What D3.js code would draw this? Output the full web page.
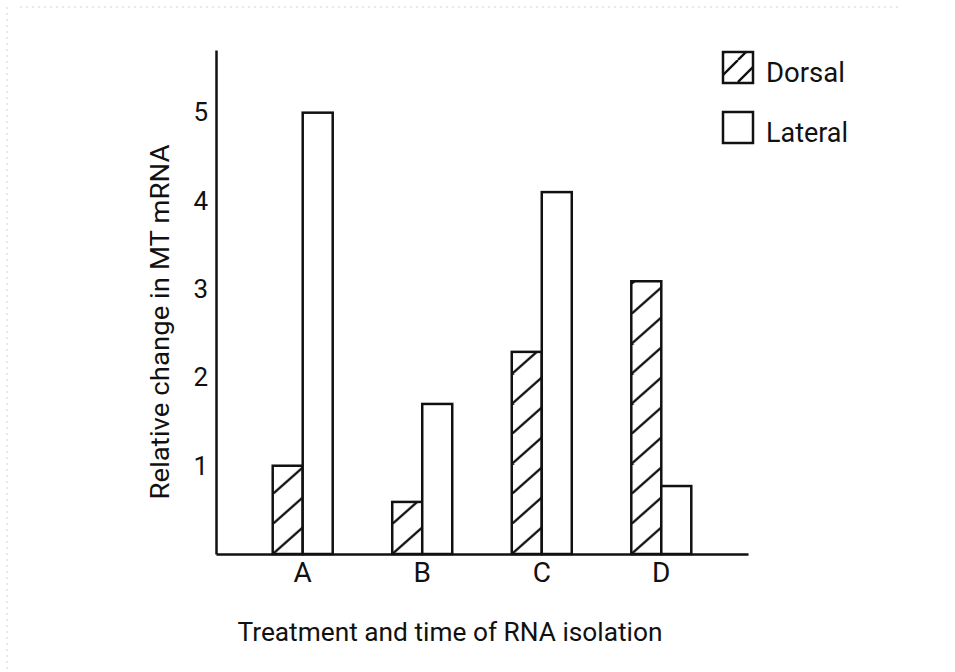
<!DOCTYPE html>
<html>
<head>
<meta charset="utf-8">
<script src="https://cdn.jsdelivr.net/npm/d3@7"></script>
<style>
  body { margin: 0; background: #fff; }
  text { font-family: Roboto, "Liberation Sans", Arial, sans-serif; font-weight: 400; fill: #111; }
</style>
</head>
<body>
<div id="chart"></div>
<script>
var categories = ["A", "B", "C", "D"];
var seriesNames = ["Dorsal", "Lateral"];
var dorsal = [1.0, 0.59, 2.29, 3.09];
var lateral = [5.0, 1.70, 4.10, 0.77];
var yTicks = [1, 2, 3, 4, 5];
var yMax = 5.71;

var width = 955, height = 672;
var margin = {left: 216, right: 207, top: 50, bottom: 118};
var fontFam = "Roboto, 'Liberation Sans', Arial, sans-serif";

var svg = d3.select("#chart")
  .append("svg")
    .attr("width", width)
    .attr("height", height);

// faint scan border
svg.append("line")
  .attr("x1", 20).attr("y1", 7).attr("x2", 900).attr("y2", 7)
  .attr("stroke", "#d4d4d4").attr("stroke-dasharray", "2,4");
svg.append("line")
  .attr("x1", 7).attr("y1", 7).attr("x2", 7).attr("y2", height)
  .attr("stroke", "#d4d4d4").attr("stroke-dasharray", "2,4");

var x = d3.scaleBand()
  .domain(categories)
  .range([margin.left, width - margin.right])
  .paddingInner(0)
  .paddingOuter(0.2255);

var bw = 30;
var xs = d3.scaleBand()
  .domain(seriesNames)
  .range([0, bw * 2]);

var y = d3.scaleLinear()
  .domain([0, yMax])
  .range([height - margin.bottom, margin.top]);

var rows = categories.map(function(c, i) {
  return {cat: c, Dorsal: dorsal[i], Lateral: lateral[i]};
});

function barX(d, s) {
  return x(d.cat) + x.bandwidth() / 2 - bw + xs(s);
}

// one hatch pattern per dorsal bar so lines start at its bottom-left corner
var defs = svg.append("defs");
defs.selectAll("pattern.bar")
  .data(rows)
  .enter().append("pattern")
    .attr("class", "bar")
    .attr("id", function(d) { return "hatch-" + d.cat; })
    .attr("patternUnits", "userSpaceOnUse")
    .attr("x", function(d) { return barX(d, "Dorsal"); })
    .attr("y", y(0))
    .attr("width", 34)
    .attr("height", 30)
  .append("path")
    .attr("d", "M0,30L34,0M-34,30L0,0M34,30L68,0")
    .attr("stroke", "#111")
    .attr("stroke-width", 2.4);

// Add bars
var groups = svg.append("g")
  .selectAll("g")
  .data(rows)
  .enter().append("g");

groups.selectAll("rect")
  .data(function(d) { return seriesNames.map(function(s) { return {row: d, key: s, value: d[s]}; }); })
  .enter().append("rect")
    .attr("x", function(d) { return barX(d.row, d.key); })
    .attr("y", function(d) { return y(d.value); })
    .attr("width", xs.bandwidth())
    .attr("height", function(d) { return y(0) - y(d.value); })
    .attr("fill", function(d) { return d.key == "Dorsal" ? "url(#hatch-" + d.row.cat + ")" : "#fff"; })
    .attr("stroke", "#111")
    .attr("stroke-width", 2.5);

// Add X axis
var xAx = svg.append("g")
  .attr("transform", "translate(0," + y(0) + ")")
  .call(d3.axisBottom(x).tickSize(0).tickSizeOuter(0).tickPadding(8));
xAx.select(".domain").attr("stroke", "#111").attr("stroke-width", 2.5);
xAx.selectAll("text")
  .style("font-size", "28px")
  .style("font-family", fontFam)
  .style("font-weight", 400)
  .attr("fill", "#111");

// Add Y axis
var yAx = svg.append("g")
  .attr("transform", "translate(" + margin.left + ",0)")
  .call(d3.axisLeft(y).tickValues(yTicks).tickSize(0).tickSizeOuter(0).tickPadding(8).tickFormat(d3.format("d")));
yAx.select(".domain").attr("stroke", "#111").attr("stroke-width", 2.5);
yAx.selectAll("text")
  .style("font-size", "26px")
  .style("font-family", fontFam)
  .style("font-weight", 400)
  .attr("fill", "#111");

// axis titles
svg.append("text")
  .attr("x", 450)
  .attr("y", 641)
  .attr("text-anchor", "middle")
  .attr("textLength", 425)
  .attr("lengthAdjust", "spacingAndGlyphs")
  .style("font-size", "26px")
  .text("Treatment and time of RNA isolation");

svg.append("text")
  .attr("transform", "translate(169,322) rotate(-90)")
  .attr("text-anchor", "middle")
  .attr("textLength", 355)
  .attr("lengthAdjust", "spacingAndGlyphs")
  .style("font-size", "25px")
  .text("Relative change in MT mRNA");

// legend
defs.append("pattern")
  .attr("id", "hatch-legend")
  .attr("patternUnits", "userSpaceOnUse")
  .attr("x", 719)
  .attr("y", 52)
  .attr("width", 22)
  .attr("height", 22)
.append("path")
  .attr("d", "M0,22L22,0M-22,22L0,0M22,22L44,0")
  .attr("stroke", "#111")
  .attr("stroke-width", 2.4);

var legend = svg.append("g")
  .selectAll("g")
  .data(seriesNames)
  .enter().append("g")
    .attr("transform", function(d, i) { return "translate(723," + (52 + i * 60) + ")"; });

legend.append("rect")
  .attr("width", 30)
  .attr("height", 31)
  .attr("fill", function(d) { return d == "Dorsal" ? "url(#hatch-legend)" : "#fff"; })
  .attr("stroke", "#111")
  .attr("stroke-width", 2.5);

legend.append("text")
  .attr("x", 43)
  .attr("y", 30)
  .attr("textLength", function(d) { return d == "Dorsal" ? 79 : 82; })
  .attr("lengthAdjust", "spacingAndGlyphs")
  .style("font-size", "27px")
  .text(function(d) { return d; });
</script>
</body>
</html>
